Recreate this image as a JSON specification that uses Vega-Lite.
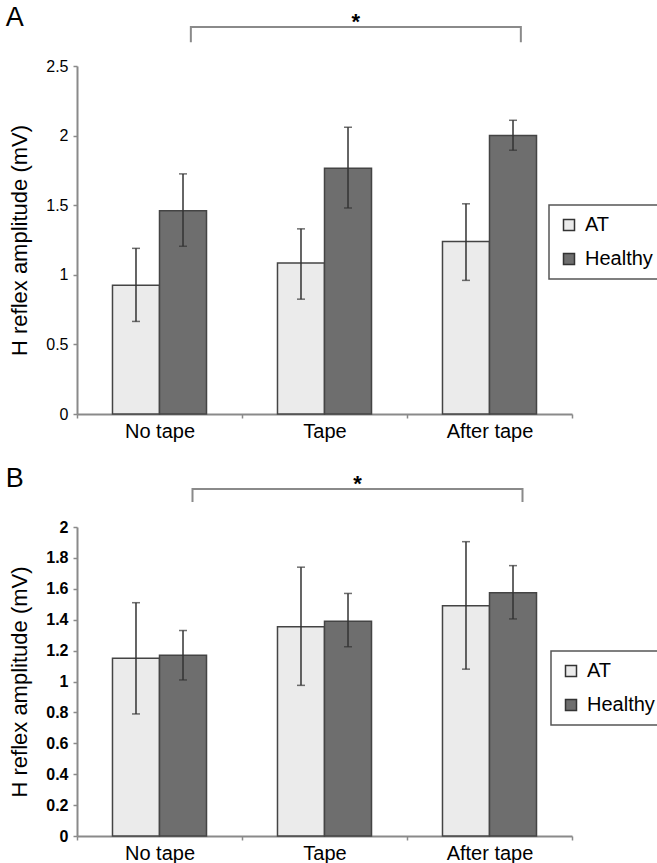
{
  "$schema": "https://vega.github.io/schema/vega-lite/v6.json",
  "padding": {"left": 5, "top": 4, "right": 0, "bottom": 0},
  "config": {
    "font": "Liberation Sans",
    "view": {"stroke": null},
    "axis": {"domainColor": "#8a8a8a", "domainWidth": 2, "tickColor": "#8a8a8a", "tickWidth": 1.5, "tickSize": 4, "labelColor": "#000", "titleColor": "#000", "grid": false},
    "axisX": {"labelAngle": 0, "labelFontSize": 20, "labelPadding": 3, "tickBand": "extent", "title": null},
    "axisY": {"labelFontSize": 16, "labelPadding": 5, "labelOverlap": false, "tickCount": 30, "titleFontSize": 22, "titleFontWeight": "normal", "titlePadding": 14},
    "legend": {"orient": "none", "title": null, "labelFontSize": 20, "labelColor": "#000", "symbolType": "square", "symbolSize": 121, "symbolStrokeColor": "#333", "symbolStrokeWidth": 1.5, "strokeColor": "#555", "strokeWidth": 1.5, "padding": 10, "rowPadding": 14, "labelOffset": 6},
    "title": {"anchor": "start", "frame": "bounds", "fontSize": 27, "fontWeight": "normal", "color": "#000", "dx": -3}
  },
  "resolve": {"scale": {"color": "independent"}},
  "spacing": 24,
  "vconcat": [
    {
      "title": {"text": "A", "offset": -21},
      "width": 495,
      "height": 348,
      "layer": [
        {
          "data": {"values": [
            {"cond": "No tape", "group": "AT", "mean": 0.925, "lo": 0.665, "hi": 1.19},
            {"cond": "No tape", "group": "Healthy", "mean": 1.46, "lo": 1.205, "hi": 1.725},
            {"cond": "Tape", "group": "AT", "mean": 1.085, "lo": 0.825, "hi": 1.33},
            {"cond": "Tape", "group": "Healthy", "mean": 1.765, "lo": 1.48, "hi": 2.06},
            {"cond": "After tape", "group": "AT", "mean": 1.24, "lo": 0.96, "hi": 1.51},
            {"cond": "After tape", "group": "Healthy", "mean": 2.0, "lo": 1.895, "hi": 2.11}
          ]},
          "encoding": {
            "x": {"field": "cond", "type": "nominal", "sort": ["No tape", "Tape", "After tape"], "scale": {"paddingInner": 0, "paddingOuter": 0}},
            "xOffset": {"field": "group", "type": "nominal", "scale": {"paddingInner": 0, "paddingOuter": 0.755}}
          },
          "layer": [
            {
              "mark": {"type": "bar", "stroke": "#444", "strokeWidth": 1.5},
              "encoding": {
                "y": {"field": "mean", "type": "quantitative", "scale": {"domain": [0, 2.5], "nice": false}, "axis": {"values": [0, 0.5, 1, 1.5, 2, 2.5], "tickCount": 30, "labelOverlap": false, "labelExpr": "'' + datum.value", "title": "H reflex amplitude (mV)"}},
                "color": {"field": "group", "type": "nominal", "scale": {"domain": ["AT", "Healthy"], "range": ["#ebebeb", "#6e6e6e"]}, "legend": {"legendX": 472, "legendY": 139}}
              }
            },
            {
              "mark": {"type": "rule", "color": "#333", "strokeWidth": 1.5},
              "encoding": {
                "y": {"field": "lo", "type": "quantitative", "scale": {"domain": [0, 2.5], "nice": false}},
                "y2": {"field": "hi"}
              }
            },
            {
              "mark": {"type": "tick", "color": "#333", "thickness": 1.5, "size": 8, "orient": "horizontal"},
              "encoding": {"y": {"field": "lo", "type": "quantitative", "scale": {"domain": [0, 2.5], "nice": false}}}
            },
            {
              "mark": {"type": "tick", "color": "#333", "thickness": 1.5, "size": 8, "orient": "horizontal"},
              "encoding": {"y": {"field": "hi", "type": "quantitative", "scale": {"domain": [0, 2.5], "nice": false}}}
            }
          ]
        },
        {
          "data": {"values": [
            {"cond": "No tape", "level": 2.67, "i": 1},
            {"cond": "No tape", "level": 2.781, "i": 2},
            {"cond": "After tape", "level": 2.781, "i": 3},
            {"cond": "After tape", "level": 2.67, "i": 4}
          ]},
          "mark": {"type": "line", "color": "#8a8a8a", "strokeWidth": 2},
          "encoding": {
            "x": {"field": "cond", "type": "nominal", "bandPosition": 0.69, "sort": ["No tape", "Tape", "After tape"]},
            "y": {"field": "level", "type": "quantitative", "scale": {"domain": [0, 2.5], "nice": false}},
            "order": {"field": "i", "type": "quantitative"}
          }
        },
        {
          "data": {"values": [{"cond": "Tape", "level": 2.765, "label": "*"}]},
          "mark": {"type": "text", "fontSize": 22, "fontWeight": "bold", "baseline": "alphabetic", "color": "#000"},
          "encoding": {
            "x": {"field": "cond", "type": "nominal", "bandPosition": 0.69, "sort": ["No tape", "Tape", "After tape"]},
            "y": {"field": "level", "type": "quantitative", "scale": {"domain": [0, 2.5], "nice": false}},
            "text": {"field": "label"}
          }
        }
      ]
    },
    {
      "title": {"text": "B", "offset": -20},
      "width": 495,
      "height": 309,
      "layer": [
        {
          "data": {"values": [
            {"cond": "No tape", "group": "AT", "mean": 1.15, "lo": 0.79, "hi": 1.51},
            {"cond": "No tape", "group": "Healthy", "mean": 1.17, "lo": 1.01, "hi": 1.33},
            {"cond": "Tape", "group": "AT", "mean": 1.355, "lo": 0.975, "hi": 1.74},
            {"cond": "Tape", "group": "Healthy", "mean": 1.39, "lo": 1.225, "hi": 1.57},
            {"cond": "After tape", "group": "AT", "mean": 1.49, "lo": 1.08, "hi": 1.905},
            {"cond": "After tape", "group": "Healthy", "mean": 1.575, "lo": 1.405, "hi": 1.75}
          ]},
          "encoding": {
            "x": {"field": "cond", "type": "nominal", "sort": ["No tape", "Tape", "After tape"], "scale": {"paddingInner": 0, "paddingOuter": 0}},
            "xOffset": {"field": "group", "type": "nominal", "scale": {"paddingInner": 0, "paddingOuter": 0.755}}
          },
          "layer": [
            {
              "mark": {"type": "bar", "stroke": "#444", "strokeWidth": 1.5},
              "encoding": {
                "y": {"field": "mean", "type": "quantitative", "scale": {"domain": [0, 2], "nice": false}, "axis": {"values": [0, 0.2, 0.4, 0.6, 0.8, 1, 1.2, 1.4, 1.6, 1.8, 2], "tickCount": 30, "labelOverlap": false, "labelExpr": "'' + datum.value", "labelFontWeight": "bold", "title": "H reflex amplitude (mV)"}},
                "color": {"field": "group", "type": "nominal", "scale": {"domain": ["AT", "Healthy"], "range": ["#ebebeb", "#6e6e6e"]}, "legend": {"legendX": 474, "legendY": 124}}
              }
            },
            {
              "mark": {"type": "rule", "color": "#333", "strokeWidth": 1.5},
              "encoding": {
                "y": {"field": "lo", "type": "quantitative", "scale": {"domain": [0, 2], "nice": false}},
                "y2": {"field": "hi"}
              }
            },
            {
              "mark": {"type": "tick", "color": "#333", "thickness": 1.5, "size": 8, "orient": "horizontal"},
              "encoding": {"y": {"field": "lo", "type": "quantitative", "scale": {"domain": [0, 2], "nice": false}}}
            },
            {
              "mark": {"type": "tick", "color": "#333", "thickness": 1.5, "size": 8, "orient": "horizontal"},
              "encoding": {"y": {"field": "hi", "type": "quantitative", "scale": {"domain": [0, 2], "nice": false}}}
            }
          ]
        },
        {
          "data": {"values": [
            {"cond": "No tape", "level": 2.162, "i": 1},
            {"cond": "No tape", "level": 2.246, "i": 2},
            {"cond": "After tape", "level": 2.246, "i": 3},
            {"cond": "After tape", "level": 2.162, "i": 4}
          ]},
          "mark": {"type": "line", "color": "#8a8a8a", "strokeWidth": 2},
          "encoding": {
            "x": {"field": "cond", "type": "nominal", "bandPosition": 0.7, "sort": ["No tape", "Tape", "After tape"]},
            "y": {"field": "level", "type": "quantitative", "scale": {"domain": [0, 2], "nice": false}},
            "order": {"field": "i", "type": "quantitative"}
          }
        },
        {
          "data": {"values": [{"cond": "Tape", "level": 2.233, "label": "*"}]},
          "mark": {"type": "text", "fontSize": 22, "fontWeight": "bold", "baseline": "alphabetic", "color": "#000"},
          "encoding": {
            "x": {"field": "cond", "type": "nominal", "bandPosition": 0.7, "sort": ["No tape", "Tape", "After tape"]},
            "y": {"field": "level", "type": "quantitative", "scale": {"domain": [0, 2], "nice": false}},
            "text": {"field": "label"}
          }
        }
      ]
    }
  ]
}
